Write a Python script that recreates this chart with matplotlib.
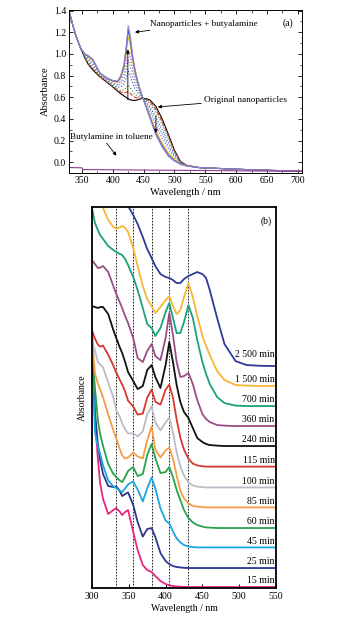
import matplotlib
matplotlib.use('Agg')
import matplotlib.pyplot as plt
from matplotlib.ticker import MultipleLocator

plt.rcParams['font.family'] = ['Liberation Serif', 'DejaVu Serif']

# ---------------- panel (a): spectra during butylamine addition ----------------
wl_a = [328, 335, 340, 348, 355, 360, 368, 375, 380, 390, 400, 408, 413, 418, 422, 425, 428,
        432, 436, 440, 444, 449, 455, 460, 470, 480, 490, 500, 510, 520, 540, 600, 650, 718]
a_original = [1.42, 1.27, 1.17, 1.05, 0.96, 0.905, 0.85, 0.81, 0.785, 0.74, 0.695, 0.655, 0.632, 0.612,
              0.597, 0.585, 0.577, 0.571, 0.57, 0.575, 0.583, 0.59, 0.585, 0.575, 0.515, 0.40, 0.26, 0.11,
              0.005, -0.03, -0.05, -0.065, -0.075, -0.085]
a_step1 = [1.42, 1.27, 1.17, 1.05, 0.964, 0.913, 0.86, 0.816, 0.789, 0.744, 0.701, 0.665, 0.649, 0.641,
           0.645, 0.653, 0.637, 0.614, 0.599, 0.594, 0.593, 0.59, 0.576, 0.559, 0.489, 0.374, 0.24, 0.10,
           0.003, -0.03, -0.05, -0.065, -0.075, -0.085]
a_step2 = [1.42, 1.27, 1.17, 1.05, 0.968, 0.92, 0.869, 0.821, 0.792, 0.748, 0.706, 0.673, 0.664, 0.667,
           0.689, 0.713, 0.692, 0.653, 0.625, 0.61, 0.601, 0.59, 0.567, 0.544, 0.465, 0.351, 0.221, 0.091,
           0.0, -0.031, -0.05, -0.065, -0.075, -0.085]
a_step3 = [1.42, 1.27, 1.17, 1.05, 0.975, 0.935, 0.888, 0.833, 0.798, 0.755, 0.718, 0.691, 0.696, 0.721,
           0.781, 0.842, 0.806, 0.734, 0.68, 0.645, 0.62, 0.59, 0.549, 0.512, 0.414, 0.301, 0.182, 0.072,
           -0.005, -0.032, -0.05, -0.065, -0.075, -0.085]
a_step4 = [1.42, 1.27, 1.17, 1.05, 0.981, 0.947, 0.903, 0.842, 0.804, 0.761, 0.727, 0.705, 0.721, 0.765,
           0.853, 0.943, 0.897, 0.798, 0.724, 0.673, 0.634, 0.59, 0.535, 0.488, 0.375, 0.262, 0.151, 0.057,
           -0.008, -0.033, -0.05, -0.065, -0.075, -0.085]
a_step5 = [1.42, 1.27, 1.17, 1.05, 0.987, 0.959, 0.917, 0.85, 0.808, 0.767, 0.735, 0.719, 0.745, 0.805,
           0.921, 1.037, 0.981, 0.858, 0.764, 0.699, 0.648, 0.59, 0.521, 0.464, 0.337, 0.226, 0.123, 0.043,
           -0.012, -0.033, -0.05, -0.065, -0.075, -0.085]
a_step6 = [1.42, 1.27, 1.17, 1.05, 0.994, 0.973, 0.935, 0.861, 0.815, 0.774, 0.746, 0.736, 0.775, 0.857,
           1.008, 1.159, 1.09, 0.936, 0.817, 0.732, 0.665, 0.59, 0.504, 0.435, 0.29, 0.179, 0.086, 0.025,
           -0.016, -0.034, -0.05, -0.065, -0.075, -0.085]
a_step7 = [1.42, 1.27, 1.17, 1.05, 0.998, 0.98, 0.944, 0.866, 0.818, 0.778, 0.751, 0.744, 0.79, 0.883,
           1.051, 1.22, 1.144, 0.974, 0.843, 0.749, 0.674, 0.59, 0.496, 0.42, 0.266, 0.156, 0.067, 0.016,
           -0.018, -0.035, -0.05, -0.065, -0.075, -0.085]
a_final = [1.42, 1.27, 1.17, 1.05, 1.0, 0.985, 0.95, 0.87, 0.82, 0.78, 0.755, 0.75, 0.8, 0.9,
           1.08, 1.26, 1.18, 1.0, 0.86, 0.76, 0.68, 0.59, 0.49, 0.41, 0.25, 0.14, 0.055, 0.01,
           -0.02, -0.035, -0.05, -0.065, -0.075, -0.085]
wl_amine = [328, 350, 352, 718]
a_amine = [-0.049, -0.052, -0.068, -0.085]

# ---------------- panel (b): stacked spectra vs. time ----------------
wl_b = [300, 304, 308, 311, 315, 322, 329, 333, 337, 341, 345, 349, 356, 362, 369, 375, 381, 386, 393,
        400, 405, 410, 415, 420, 425, 431, 437, 443, 450, 455, 460, 470, 480, 495, 510, 530, 550]
b_15 = [13.0, 8.4, 6.4, 5.2, 4.4, 3.65, 3.85, 3.95, 3.8, 3.6, 3.75, 3.85, 2.75, 1.85, 1.1, 0.85, 0.75, 0.55,
        0.3, 0.15, 0.08, 0.05, 0.03, 0.02, 0.01, 0, 0, 0, 0, 0, 0, 0, 0, 0, 0, 0, 0]
b_25 = [11.0, 7.8, 6.2, 5.4, 4.7, 4.1, 4.05, 4.07, 3.9, 3.6, 3.7, 3.78, 3.15, 2.3, 1.57, 1.95, 2.0, 1.55,
        0.75, 0.35, 0.2, 0.1, 0.05, 0.03, 0.01, 0, 0, 0, 0, 0, 0, 0, 0, 0, 0, 0, 0]
b_45 = [10.0, 5.8, 5.0, 4.7, 4.1, 3.35, 3.05, 2.97, 2.85, 2.77, 2.95, 3.15, 3.3, 2.9, 2.3, 2.95, 3.5, 2.95,
        1.95, 1.35, 1.2, 0.8, 0.45, 0.25, 0.12, 0.05, 0.02, 0, 0, 0, 0, 0, 0, 0, 0, 0, 0]
b_60 = [9.0, 7.0, 5.4, 4.7, 4.1, 3.2, 2.7, 2.55, 2.4, 2.3, 2.55, 2.85, 3.05, 2.6, 2.7, 3.65, 4.2, 3.5,
        2.75, 2.8, 3.05, 2.55, 1.9, 1.4, 0.9, 0.5, 0.28, 0.15, 0.07, 0.03, 0.02, 0, 0, 0, 0, 0, 0]
b_85 = [8.5, 6.7, 6.2, 5.9, 5.5, 4.65, 3.85, 3.45, 3.0, 2.6, 2.45, 2.5, 2.75, 2.55, 2.45, 3.35, 4.05, 2.9,
        2.5, 2.85, 3.0, 2.45, 1.6, 0.85, 0.45, 0.2, 0.08, 0.04, 0.02, 0, 0, 0, 0, 0, 0, 0, 0]
b_100 = [7.35, 6.85, 6.25, 6.15, 6.0, 5.25, 4.5, 3.85, 3.6, 3.2, 2.9, 2.7, 2.7, 2.55, 2.8, 3.65, 4.05, 3.25,
         2.85, 3.25, 3.5, 2.75, 1.75, 1.05, 0.6, 0.25, 0.1, 0.04, 0.02, 0, 0, 0, 0, 0, 0, 0, 0]
b_115 = [6.8, 6.4, 6.1, 6.0, 6.05, 5.6, 5.05, 4.7, 4.4, 4.1, 3.75, 3.3, 3.0, 2.6, 2.65, 3.45, 3.85, 3.25,
         3.1, 3.85, 4.1, 3.45, 2.35, 1.45, 0.85, 0.4, 0.15, 0.06, 0.02, 0, 0, 0, 0, 0, 0, 0, 0]
b_240 = [7.0, 6.95, 6.9, 6.95, 6.95, 6.6, 5.8, 5.4, 5.0, 4.65, 4.2, 3.7, 3.25, 2.85, 3.0, 3.8, 4.05, 3.45,
         2.9, 4.05, 5.2, 4.2, 3.05, 2.2, 1.7, 1.4, 0.9, 0.4, 0.2, 0.1, 0.05, 0.02, 0, 0, 0, 0, 0]
b_360 = [8.3, 8.1, 7.9, 7.92, 8.0, 7.7, 7.0, 6.6, 6.25, 5.9, 5.5, 5.15, 4.4, 3.4, 3.2, 3.75, 4.1, 3.5,
         3.3, 4.4, 5.65, 4.55, 3.2, 2.45, 2.5, 2.65, 2.1, 1.3, 0.6, 0.35, 0.2, 0.05, 0.02, 0, 0, 0, 0]
b_700 = [9.9, 9.15, 8.8, 8.55, 8.35, 8.0, 7.8, 7.7, 7.62, 7.55, 7.35, 7.05, 6.45, 5.8, 4.9, 4.1, 3.9, 3.5,
         3.9, 4.7, 5.15, 4.4, 3.65, 3.65, 4.2, 5.05, 4.4, 3.3, 2.2, 1.6, 1.1, 0.45, 0.15, 0.02, 0, 0, 0]
b_1500 = [11.0, 10.3, 9.7, 9.4, 8.9, 8.3, 7.95, 7.88, 7.92, 8.0, 7.9, 7.7, 6.9, 6.0, 5.0, 4.35, 4.0, 3.65,
          3.95, 4.3, 4.5, 4.0, 3.6, 3.8, 4.45, 5.15, 4.45, 3.5, 2.5, 2.0, 1.55, 0.75, 0.3, 0.05, 0.02, 0, 0]
b_2500 = [14.0, 13.5, 13.0, 12.6, 12.0, 11.0, 10.2, 9.8, 9.4, 9.0, 8.5, 8.0, 7.55, 7.1, 6.45, 5.85, 5.4, 5.0,
          4.6, 4.45, 4.4, 4.3, 4.15, 4.15, 4.35, 4.5, 4.6, 4.7, 4.6, 4.4, 3.8, 2.4, 1.1, 0.25, 0.05, 0.01, 0]
times = ['15 min', '25 min', '45 min', '60 min', '85 min', '100 min', '115 min',
         '240 min', '360 min', '700 min', '1 500 min', '2 500 min']
peak_marks = [333, 356, 381, 405, 431]

# ---------------- figure ----------------
fig = plt.figure(figsize=(3.38, 6.21), dpi=100)

# (a)
ax = fig.add_axes([0.204, 0.7214, 0.689, 0.2625])
series_a = [a_original, a_step1, a_step2, a_step3, a_step4, a_step5, a_step6, a_step7, a_final]
styles_a = [('k', '-'), ('#e0392f', '--'), ('#2f9c3a', ':'), ('#3148c8', ':'), ('#25a7c8', ':'),
            ('#c23bbf', ':'), ('#e4c51c', '-'), ('#4b4bb2', '-'), ('#8a86d2', '-')]
for ys, (c, ls) in zip(series_a, styles_a):
    ax.plot(wl_a, ys, color=c, ls=ls, lw=0.8)
ax.plot(wl_amine, a_amine, color='#8e3e90', lw=0.8)
ax.set_xlim(329, 706.5)
ax.set_ylim(-0.1, 1.405)
ax.xaxis.set_major_locator(MultipleLocator(50))
ax.xaxis.set_minor_locator(MultipleLocator(25))
ax.yaxis.set_major_locator(MultipleLocator(0.2))
ax.yaxis.set_minor_locator(MultipleLocator(0.1))
ax.tick_params(which='both', direction='in', top=True, right=True, labelsize=7, pad=2)
ax.tick_params(which='major', length=3, width=0.6)
ax.tick_params(which='minor', length=1.8, width=0.5)
ax.set_yticklabels(['%.1f' % v for v in ax.get_yticks()])
for s in ax.spines.values():
    s.set_linewidth(0.7)
ax.set_xlabel('Wavelength / nm', fontsize=7.5, labelpad=2)
ax.set_ylabel('Absorbance', fontsize=7.5, labelpad=3)
arw = dict(arrowstyle='-|>', lw=0.6, color='k', mutation_scale=5, shrinkA=0, shrinkB=0)
ax.annotate('Nanoparticles + butyalamine', xy=(436, 1.20), xytext=(460, 1.28),
            fontsize=6.7, va='center', arrowprops=arw)
ax.annotate('Original nanoparticles', xy=(473, 0.51), xytext=(548, 0.576),
            fontsize=6.7, va='center', arrowprops=arw)
ax.annotate('', xy=(406, 0.06), xytext=(390, 0.176), arrowprops=arw)
ax.text(330, 0.237, 'Butylamine in toluene', fontsize=6.7, va='center')
ax.annotate('', xy=(424.5, 1.04), xytext=(424.5, 0.575), arrowprops=arw)
ax.annotate('', xy=(470, 0.27), xytext=(470, 0.43), arrowprops=arw)
ax.text(684, 1.28, '(a)', fontsize=7, ha='center', va='center')

# (b)
bx = fig.add_axes([0.2722, 0.0531, 0.5444, 0.6135])
series_b = [b_15, b_25, b_45, b_60, b_85, b_100, b_115, b_240, b_360, b_700, b_1500, b_2500]
colors_b = ['#e5267f', '#2d3790', '#19a6e2', '#25a34a', '#f59c44', '#b9bdc6',
            '#d8372e', '#111111', '#9b4d86', '#1ca17d', '#f7b634', '#2f3a97']
offsets = [0.05, 1.0, 2.03, 3.0, 4.03, 5.03, 6.07, 7.1, 8.1, 9.1, 10.1, 11.1]
for wl in peak_marks:
    bx.axvline(wl, color='k', ls=(0, (2, 1.6)), lw=0.6, zorder=1)
for ys, c, off, lab in zip(series_b, colors_b, offsets, times):
    bx.plot(wl_b, [v + off for v in ys], color=c, lw=1.3, zorder=2, solid_joinstyle='round')
    dy = 0.58 if lab == '2 500 min' else 0.32
    bx.text(548, off + dy, lab, fontsize=7, ha='right', va='center', zorder=3)
bx.set_xlim(300, 550)
bx.set_ylim(0, 19.05)
bx.set_xticks([300, 350, 400, 450, 500, 550])
bx.set_yticks([])
bx.tick_params(axis='x', direction='in', length=3, width=0.7, labelsize=7, pad=3)
for s in bx.spines.values():
    s.set_linewidth(1.3)
bx.set_xlabel('Wavelength / nm', fontsize=7, labelpad=2)
bx.set_ylabel('Absorbance', fontsize=7, labelpad=4)
bx.text(536, 18.35, '(b)', fontsize=7, ha='center', va='center')

fig.savefig('out.png', dpi=100)
